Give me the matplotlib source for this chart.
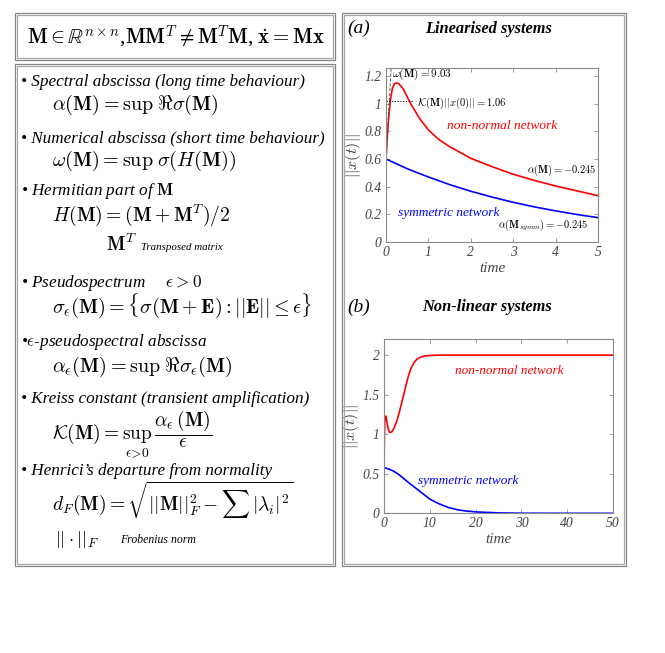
import matplotlib
matplotlib.use("Agg")
import matplotlib.pyplot as plt
from matplotlib.patches import Rectangle

plt.rcParams['mathtext.fontset'] = 'cm'
plt.rcParams['font.family'] = ['Liberation Serif', 'DejaVu Serif']

W, H = 665, 653

# (a) linearised systems
t_lin_red = [0, 0.05, 0.1, 0.15, 0.2, 0.25, 0.3, 0.4, 0.5, 0.6, 0.8, 1.0, 1.25, 1.5,
             2.0, 2.5, 3.0, 3.5, 4.0, 4.5, 5.0]
x_lin_red = [0.6, 0.85, 1.02, 1.11, 1.145, 1.15, 1.145, 1.11, 1.05, 0.99, 0.89, 0.81,
             0.74, 0.69, 0.605, 0.545, 0.49, 0.445, 0.405, 0.37, 0.335]
t_lin_blue = [0, 0.5, 1.0, 1.5, 2.0, 2.5, 3.0, 3.5, 4.0, 4.5, 5.0]
x_lin_blue = [0.6, 0.53, 0.47, 0.415, 0.367, 0.325, 0.287, 0.254, 0.225, 0.199, 0.176]
omega_M = 9.03
kreiss_level = 1.02

# (b) non-linear systems
t_nl_red = [0, 0.1, 0.2, 0.35, 0.5, 0.8, 1.0, 1.3, 1.7, 2.2, 2.8, 3.4, 4.0, 4.6, 5.2,
            5.8, 6.5, 7.2, 8.0, 9.0, 10, 12, 15, 20, 30, 40, 50]
x_nl_red = [0.6, 1.0, 1.18, 1.23, 1.2, 1.1, 1.05, 1.02, 1.03, 1.08, 1.17, 1.29, 1.43,
            1.57, 1.71, 1.82, 1.9, 1.95, 1.975, 1.99, 1.995, 2.0, 2.0, 2.0, 2.0, 2.0, 2.0]
t_nl_blue = [0, 1, 2, 3, 4, 5, 6, 7, 8, 9, 10, 12, 14, 16, 18, 20, 25, 30, 40, 50]
x_nl_blue = [0.58, 0.56, 0.535, 0.5, 0.455, 0.405, 0.36, 0.315, 0.27, 0.225, 0.18, 0.12,
             0.075, 0.045, 0.028, 0.018, 0.005, 0.001, 0.0, 0.0]


def fx(px):
    return px / W


def fy(py):
    return 1 - py / H


fig = plt.figure(figsize=(6.65, 6.53), dpi=100)


def double_box(x0, y0, x1, y1):
    for d, c in [(0, '#858585'), (2, '#a8a8a8')]:
        fig.patches.append(Rectangle((fx(x0 + d), fy(y1 - d)), fx(x1 - x0 - 2 * d),
                                     (y1 - y0 - 2 * d) / H, fill=False, ec=c, lw=0.9,
                                     transform=fig.transFigure))


double_box(15, 13, 335, 60)
double_box(15, 64, 335, 566)
double_box(342, 13, 626, 566)

# left panel texts
fig.text(fx(176), fy(37), r'$\mathbf{M}\in\mathbb{R}^{n\times n}$,$\mathbf{MM}^T\neq\mathbf{M}^T\mathbf{M}$, $\dot{\mathbf{x}}=\mathbf{Mx}$',
         ha='center', va='center', fontsize=15)

heads = [
    (82, '• Spectral abscissa (long time behaviour)'),
    (138, '• Numerical abscissa (short time behaviour)'),
    (191, r'• Hermitian part of $\mathbf{M}$'),
    (283, r'• Pseudospectrum     $\epsilon > 0$'),
    (342, r'•$\epsilon$-pseudospectral abscissa'),
    (399, '• Kreiss constant (transient amplification)'),
    (471, '• Henrici’s departure from normality'),
]
for y, s in heads:
    fig.text(fx(21), fy(y), s, ha='left', va='center', fontsize=12.3, style='italic')

forms = [
    (105, 52, 14.5, r'$\alpha(\mathbf{M}) = \sup\;\Re\sigma(\mathbf{M})$'),
    (161, 52, 14.5, r'$\omega(\mathbf{M}) = \sup\;\sigma(H(\mathbf{M}))$'),
    (215, 52, 14.2, r'$H(\mathbf{M}) = (\mathbf{M}+\mathbf{M}^T)/2$'),
    (306, 52, 14.5, r'$\sigma_\epsilon(\mathbf{M}) = \{\sigma(\mathbf{M}+\mathbf{E}) : ||\mathbf{E}|| \leq \epsilon\}$'),
    (367, 52, 14.5, r'$\alpha_\epsilon(\mathbf{M}) = \sup\;\Re\sigma_\epsilon(\mathbf{M})$'),
    (435, 52, 14, r'$\mathcal{K}(\mathbf{M}) = \sup_{\epsilon>0}\,\dfrac{\alpha_\epsilon(\mathbf{M})}{\epsilon}$'),
    (500, 52, 14, r'$d_F(\mathbf{M}) = \sqrt{||\mathbf{M}||_F^2 - \sum\,|\lambda_i|^2}$'),
]
for y, x, fs, s in forms:
    fig.text(fx(x), fy(y), s, ha='left', va='center', fontsize=fs)

fig.text(fx(106), fy(244), r'$\mathbf{M}^T$', ha='left', va='center', fontsize=14)
fig.text(fx(141), fy(247), 'Transposed matrix', ha='left', va='center', fontsize=7.8, style='italic')
fig.text(fx(55), fy(539), r'$||\cdot||_F$', ha='left', va='center', fontsize=13)
fig.text(fx(120), fy(540), 'Frobenius norm', ha='left', va='center', fontsize=8.5, style='italic')

# right panel
tick_col = '#444444'


def style_ax(ax):
    for sp in ax.spines.values():
        sp.set_color('#8a8a8a')
        sp.set_linewidth(0.8)
    ax.tick_params(direction='in', top=True, right=True, length=3, width=0.6,
                   color='#8a8a8a', labelcolor=tick_col, labelsize=9.8, pad=3)
    for lab in ax.get_xticklabels() + ax.get_yticklabels():
        lab.set_style('italic')
    ax.set_xlabel('time', fontsize=11, style='italic', color=tick_col, labelpad=2)
    ax.set_ylabel(r'$||x(t)||$', fontsize=11.5, color=tick_col, labelpad=1)


fig.text(fx(347), fy(28), '(a)', ha='left', va='center', fontsize=14, style='italic')
fig.text(fx(489), fy(29), 'Linearised systems', ha='center', va='center', fontsize=11.8,
         style='italic', weight='bold')
fig.text(fx(347), fy(307), '(b)', ha='left', va='center', fontsize=14, style='italic')
fig.text(fx(487), fy(307), 'Non-linear systems', ha='center', va='center', fontsize=11.8,
         style='italic', weight='bold')

axa = fig.add_axes([fx(386), fy(242), fx(598 - 386), (242 - 68.3) / H])
axa.plot(t_lin_red, x_lin_red, color='red', lw=1.2)
axa.plot(t_lin_blue, x_lin_blue, color='blue', lw=1.2)
t_tan = [0, 0.14]
axa.plot(t_tan, [x_lin_red[0] * (1 + omega_M * t) for t in t_tan], color='#555555',
         lw=0.7, ls=(0, (3, 2)))
axa.plot([0, 0.64], [kreiss_level, kreiss_level], color='black', lw=0.8, ls=(0, (1, 1.5)))
axa.set_xlim(0, 5)
axa.set_ylim(0, 1.256)
axa.set_xticks([0, 1, 2, 3, 4, 5])
axa.set_yticks([0, 0.2, 0.4, 0.6, 0.8, 1.0, 1.2])
axa.set_yticklabels(['0', '0.2', '0.4', '0.6', '0.8', '1', '1.2'])
style_ax(axa)
axa.text(0.15, 1.215, r'$\omega(\mathbf{M})=9.03$', fontsize=8, va='center', ha='left')
axa.text(0.72, 1.0, r'$\mathcal{K}(\mathbf{M})||x(0)||=1.06$', fontsize=7.6, va='center', ha='left')
axa.text(1.45, 0.84, 'non-normal network', color='red', fontsize=9.6, style='italic', va='center')
axa.text(4.97, 0.52, r'$\alpha(\mathbf{M})=-0.245$', fontsize=7.5, va='center', ha='right')
axa.text(0.28, 0.21, 'symmetric network', color='blue', fontsize=9.6, style='italic', va='center')
axa.text(2.65, 0.12, r'$\alpha(\mathbf{M}_{symm})=-0.245$', fontsize=7.5, va='center', ha='left')

axb = fig.add_axes([fx(384), fy(513.3), fx(613 - 384), (513.3 - 339.3) / H])
axb.plot(t_nl_red, x_nl_red, color='red', lw=1.2)
axb.plot(t_nl_blue, x_nl_blue, color='blue', lw=1.2)
axb.set_xlim(0, 50)
axb.set_ylim(0, 2.2)
axb.set_xticks([0, 10, 20, 30, 40, 50])
axb.set_yticks([0, 0.5, 1, 1.5, 2])
axb.set_yticklabels(['0', '0.5', '1', '1.5', '2'])
style_ax(axb)
axb.text(15.5, 1.8, 'non-normal network', color='red', fontsize=9.5, style='italic', va='center')
axb.text(7.4, 0.41, 'symmetric network', color='blue', fontsize=9.5, style='italic', va='center')

fig.savefig('out.png', dpi=100)
